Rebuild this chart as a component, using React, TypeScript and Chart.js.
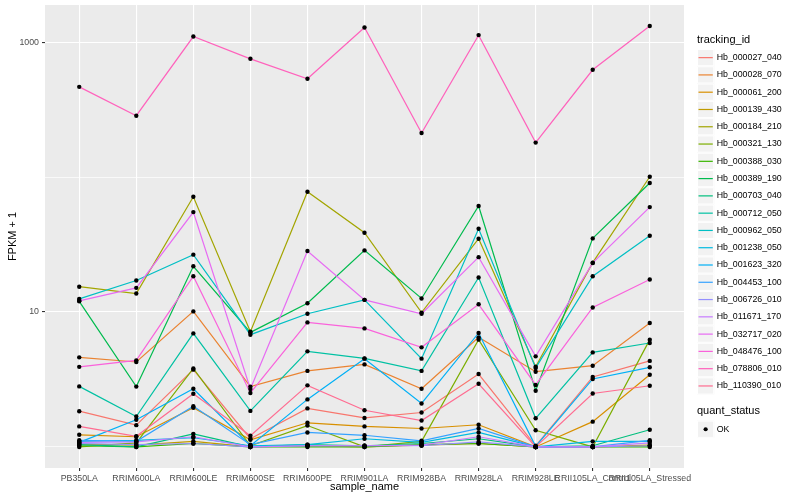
import React, { useEffect, useRef } from "react";
import { Chart, registerables } from "chart.js";

Chart.register(...registerables);

const FONT = '"Liberation Sans", Arial, Helvetica, sans-serif';

const categories = [
  "PB350LA",
  "RRIM600LA",
  "RRIM600LE",
  "RRIM600SE",
  "RRIM600PE",
  "RRIM901LA",
  "RRIM928BA",
  "RRIM928LA",
  "RRIM928LE",
  "RRII105LA_Control",
  "RRII105LA_Stressed",
];

const trackingIds = [
  "Hb_000027_040",
  "Hb_000028_070",
  "Hb_000061_200",
  "Hb_000139_430",
  "Hb_000184_210",
  "Hb_000321_130",
  "Hb_000388_030",
  "Hb_000389_190",
  "Hb_000703_040",
  "Hb_000712_050",
  "Hb_000962_050",
  "Hb_001238_050",
  "Hb_001623_320",
  "Hb_004453_100",
  "Hb_006726_010",
  "Hb_011671_170",
  "Hb_032717_020",
  "Hb_048476_100",
  "Hb_078806_010",
  "Hb_110390_010",
];

const lineColors = [
  "#F8766D", "#EA8331", "#D89000", "#C09B00", "#A3A500",
  "#7CAE00", "#39B600", "#00BB4E", "#00BF7D", "#00C1A3",
  "#00BFC4", "#00BAE0", "#00B0F6", "#35A2FF", "#9590FF",
  "#C77CFF", "#E76BF3", "#FA62DB", "#FF62BC", "#FF6C91",
];

// FPKM + 1 per sample (same order as categories)
const hb_000027_040 = [1.84, 1.45, 3.74, 1.15, 1.93, 1.64, 1.8, 3.47, 1.02, 3.3, 4.34];
const hb_000028_070 = [4.61, 4.26, 10.1, 2.8, 3.66, 4.09, 2.7, 6.49, 3.61, 4.0, 8.29];
const hb_000061_200 = [1.23, 1.19, 1.95, 1.13, 1.51, 1.42, 1.37, 1.46, 1.0, 1.54, 3.43];
const hb_000139_430 = [1.05, 1.03, 1.1, 1.0, 1.02, 1.0, 1.03, 1.06, 1.0, 1.0, 1.03];
const hb_000184_210 = [15.4, 13.7, 71.5, 7.15, 77.8, 38.7, 9.9, 34.9, 3.93, 23.2, 100.5];
const hb_000321_130 = [1.0, 1.07, 3.82, 1.02, 1.44, 1.0, 1.1, 6.24, 1.33, 1.0, 6.24];
const hb_000388_030 = [1.02, 1.0, 1.06, 1.0, 1.0, 1.0, 1.04, 1.06, 1.0, 1.0, 1.0];
const hb_000389_190 = [12.0, 2.8, 21.8, 7.06, 11.6, 28.6, 12.6, 61.0, 2.61, 35.1, 90.3];
const hb_000703_040 = [1.04, 1.0, 1.25, 1.0, 1.04, 1.02, 1.06, 1.15, 1.0, 1.02, 1.34];
const hb_000712_050 = [2.81, 1.68, 6.94, 1.85, 5.11, 4.53, 3.66, 18.0, 1.63, 5.02, 5.89];
const hb_000962_050 = [12.5, 17.1, 26.6, 6.79, 9.71, 12.3, 4.51, 41.4, 3.85, 18.4, 36.7];
const hb_001238_050 = [1.1, 1.12, 1.17, 1.02, 1.04, 1.15, 1.08, 1.28, 1.0, 1.1, 1.1];
const hb_001623_320 = [1.08, 1.59, 2.7, 1.02, 2.25, 4.51, 2.1, 6.99, 1.01, 3.19, 3.89];
const hb_004453_100 = [1.12, 1.1, 2.0, 1.04, 1.28, 1.22, 1.11, 1.37, 1.0, 1.0, 1.12];
const hb_006726_010 = [1.06, 1.04, 1.06, 1.0, 1.02, 1.02, 1.02, 1.09, 1.0, 1.0, 1.02];
const hb_011671_170 = [1.08, 1.09, 1.19, 1.0, 1.02, 1.02, 1.03, 1.19, 1.0, 1.0, 1.07];
const hb_032717_020 = [12.1, 15.1, 55.0, 2.69, 28.3, 12.3, 9.71, 25.5, 4.69, 23.1, 59.9];
const hb_048476_100 = [3.92, 4.38, 18.4, 2.51, 8.37, 7.56, 5.47, 11.4, 2.88, 10.8, 17.4];
const hb_078806_010 = [466, 285, 1100, 752, 535, 1283, 212, 1127, 180, 624, 1315];
const hb_110390_010 = [1.42, 1.2, 2.48, 1.21, 2.86, 1.87, 1.57, 2.94, 1.0, 2.49, 2.84];

const seriesValues = [
  hb_000027_040, hb_000028_070, hb_000061_200, hb_000139_430, hb_000184_210,
  hb_000321_130, hb_000388_030, hb_000389_190, hb_000703_040, hb_000712_050,
  hb_000962_050, hb_001238_050, hb_001623_320, hb_004453_100, hb_006726_010,
  hb_011671_170, hb_032717_020, hb_048476_100, hb_078806_010, hb_110390_010,
];

const quantStatus = ["OK"];

const yBreaks = [1, 10, 100, 1000];
const yLabeledBreaks = [10, 1000];
const yMin = 0.698;
const yMax = 1884;

const panelPlugin = {
  id: "ggPanel",
  beforeDraw(chart: any) {
    const { ctx, chartArea } = chart;
    ctx.save();
    ctx.fillStyle = "#EBEBEB";
    ctx.fillRect(
      chartArea.left,
      chartArea.top,
      chartArea.right - chartArea.left,
      chartArea.bottom - chartArea.top
    );
    ctx.restore();
  },
};

const legendPlugin = {
  id: "ggLegend",
  afterDraw(chart: any) {
    const ctx = chart.ctx;
    const x0 = 697;
    const key = 17.28;
    ctx.save();
    ctx.textAlign = "left";
    ctx.textBaseline = "middle";
    ctx.fillStyle = "#000000";
    ctx.font = `11px ${FONT}`;
    ctx.fillText("tracking_id", x0, 39.5);
    const top0 = 49;
    trackingIds.forEach((name, i) => {
      const y = top0 + i * key;
      ctx.fillStyle = "#F2F2F2";
      ctx.fillRect(x0, y, key, key);
      ctx.strokeStyle = "#FFFFFF";
      ctx.lineWidth = 1;
      ctx.strokeRect(x0 + 0.5, y + 0.5, key - 1, key - 1);
      ctx.strokeStyle = lineColors[i];
      ctx.lineWidth = 1.2;
      ctx.beginPath();
      ctx.moveTo(x0 + 1.5, y + key / 2);
      ctx.lineTo(x0 + key - 1.5, y + key / 2);
      ctx.stroke();
      ctx.fillStyle = "#000000";
      ctx.font = `8.8px ${FONT}`;
      ctx.fillText(name, 716.7, y + key / 2);
    });
    ctx.font = `11px ${FONT}`;
    ctx.fillText("quant_status", x0, 411);
    quantStatus.forEach((s, i) => {
      const y = 420.6 + i * key;
      ctx.fillStyle = "#F2F2F2";
      ctx.fillRect(x0, y, key, key);
      ctx.strokeStyle = "#FFFFFF";
      ctx.lineWidth = 1;
      ctx.strokeRect(x0 + 0.5, y + 0.5, key - 1, key - 1);
      ctx.fillStyle = "#000000";
      ctx.beginPath();
      ctx.arc(x0 + key / 2, y + key / 2, 2.1, 0, Math.PI * 2);
      ctx.fill();
      ctx.font = `8.8px ${FONT}`;
      ctx.fillText(s, 716.7, y + key / 2);
    });
    ctx.restore();
  },
};

export default function App() {
  const canvasRef = useRef<HTMLCanvasElement | null>(null);

  useEffect(() => {
    if (!canvasRef.current) return;
    const n = seriesValues.length;
    const lineSets = seriesValues.map((vals, i) => ({
      type: "line",
      label: trackingIds[i],
      data: vals.map((v, j) => ({ x: j, y: v })),
      borderColor: lineColors[i],
      backgroundColor: lineColors[i],
      borderWidth: 1.2,
      pointRadius: 0,
      pointHoverRadius: 0,
      tension: 0,
      fill: false,
      order: 100 + (n - i),
    }));
    const pointSets = seriesValues.map((vals, i) => ({
      type: "line",
      label: trackingIds[i] + " points",
      data: vals.map((v, j) => ({ x: j, y: v })),
      showLine: false,
      borderWidth: 0,
      pointRadius: 2.2,
      pointHoverRadius: 2.2,
      pointBackgroundColor: "#000000",
      pointBorderColor: "#000000",
      pointBorderWidth: 0,
      order: 1,
    }));

    const chart = new Chart(canvasRef.current, {
      type: "line",
      data: { datasets: [...lineSets, ...pointSets] as any },
      plugins: [panelPlugin, legendPlugin],
      options: {
        animation: false,
        responsive: false,
        devicePixelRatio: 1,
        events: [],
        layout: { padding: { left: 0, top: 5, right: 116, bottom: 0 } },
        plugins: {
          legend: { display: false },
          tooltip: { enabled: false },
          title: { display: false },
        },
        scales: {
          x: {
            type: "linear",
            min: -0.6,
            max: categories.length - 1 + 0.6,
            afterBuildTicks: (s: any) => {
              s.ticks = categories.map((_, i) => ({ value: i }));
            },
            afterFit: (s: any) => {
              s.height = 32;
              s.paddingLeft = 0;
              s.paddingRight = 0;
              s.paddingTop = 0;
              s.paddingBottom = 0;
            },
            ticks: {
              autoSkip: false,
              maxRotation: 0,
              minRotation: 0,
              padding: 2,
              color: "#4D4D4D",
              font: { family: FONT, size: 8.8 },
              callback: (v: any) => categories[Number(v)] ?? "",
            },
            grid: {
              color: "#FFFFFF",
              lineWidth: 1.1,
              tickColor: "#333333",
              tickLength: 3,
              drawOnChartArea: true,
            },
            border: { display: false },
            title: {
              display: true,
              text: "sample_name",
              color: "#000000",
              font: { family: FONT, size: 11 },
              padding: { top: 0, bottom: 6 },
            },
          },
          y: {
            type: "logarithmic",
            min: yMin,
            max: yMax,
            afterBuildTicks: (s: any) => {
              s.ticks = yBreaks.map((v) => ({ value: v }));
            },
            afterFit: (s: any) => {
              s.width = 45;
              s.paddingLeft = 0;
              s.paddingRight = 0;
              s.paddingTop = 0;
              s.paddingBottom = 0;
            },
            ticks: {
              padding: 3,
              color: "#4D4D4D",
              font: { family: FONT, size: 8.8 },
              callback: (v: any) =>
                yLabeledBreaks.includes(Number(v)) ? String(v) : "",
            },
            grid: {
              color: "#FFFFFF",
              lineWidth: (c: any) =>
                c.tick && yLabeledBreaks.includes(c.tick.value) ? 1.1 : 0.7,
              tickColor: (c: any) =>
                c.tick && yLabeledBreaks.includes(c.tick.value)
                  ? "#333333"
                  : "rgba(0,0,0,0)",
              tickLength: 3,
              drawOnChartArea: true,
            },
            border: { display: false },
            title: {
              display: true,
              text: "FPKM + 1",
              color: "#000000",
              font: { family: FONT, size: 11 },
              padding: { top: 6, bottom: 0 },
            },
          },
        },
      } as any,
    });
    return () => chart.destroy();
  }, []);

  return (
    <div
      style={{
        position: "fixed",
        left: 0,
        top: 0,
        width: 800,
        height: 500,
        background: "#FFFFFF",
      }}
    >
      <canvas
        ref={canvasRef}
        width={800}
        height={500}
        style={{ width: 800, height: 500, display: "block" }}
      />
    </div>
  );
}
